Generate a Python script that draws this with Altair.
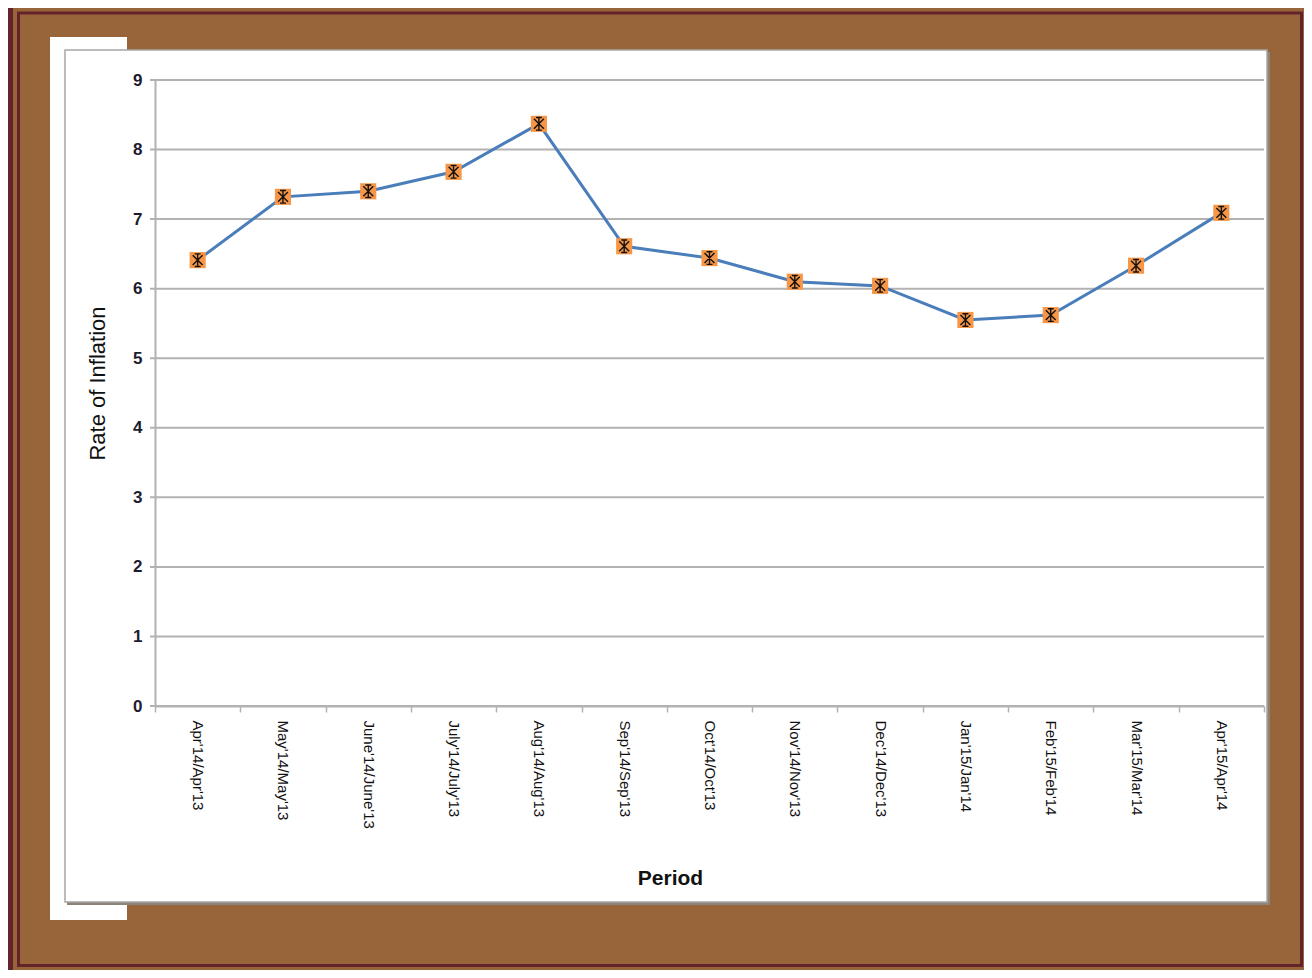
import altair as alt
import pandas as pd

periods = ["Apr'14/Apr'13", "May'14/May'13", "June'14/June'13", "July'14/July'13",
           "Aug'14/Aug'13", "Sep'14/Sep'13", "Oct'14/Oct'13", "Nov'14/Nov'13",
           "Dec'14/Dec'13", "Jan'15/Jan'14", "Feb'15/Feb'14", "Mar'15/Mar'14",
           "Apr'15/Apr'14"]
inflation = [6.41, 7.32, 7.40, 7.68, 8.37, 6.61, 6.44, 6.10, 6.04, 5.55, 5.62, 6.33, 7.09]
y_ticks = [0, 1, 2, 3, 4, 5, 6, 7, 8, 9]

df = pd.DataFrame({"period": periods, "rate": inflation})
grid_df = pd.DataFrame({"v": y_ticks})
one = pd.DataFrame({"a": [0]})

FONT = "Liberation Sans"
W, H = 1109, 626
PX, PY = 155, 80  # plot origin in page pixels


def rx(v):
    return v - PX


def ry(v):
    return v - PY


def box(x1, y1, x2, y2, **kw):
    return alt.Chart(one).mark_rect(**kw).encode(
        x=alt.value(rx(x1)), x2=alt.value(rx(x2)),
        y=alt.value(ry(y1)), y2=alt.value(ry(y2)))


grey = "#b2b2b2"

yscale = alt.Scale(domain=[0, 9], nice=False)
yaxis = alt.Axis(title="Rate of Inflation", values=y_ticks, ticks=False, labelPadding=13,
                 labelFontSize=17, labelFontWeight="bold", labelFont=FONT, labelColor="#1c1c30",
                 domainColor=grey, domainWidth=2, grid=False,
                 titleFont=FONT, titleFontSize=22, titleFontWeight="normal", titleColor="#111",
                 titleX=-58, titleY=303, titleAlign="center", titleBaseline="middle", zindex=1)
Y = alt.Y("rate:Q", scale=yscale, axis=yaxis)

xaxis = alt.Axis(title="Period", labelAngle=90, labelAlign="left", labelBaseline="middle",
                 labelFontSize=15, labelFont=FONT, labelColor="#111", labelPadding=8,
                 labelOverlap=False, tickBand="extent", tickSize=6, tickColor=grey, tickWidth=1.5,
                 domainColor=grey, domainWidth=2, grid=False,
                 titleFont=FONT, titleFontSize=21, titleFontWeight="bold", titleColor="#111",
                 titleX=515, titleY=178, titleAlign="center", titleBaseline="alphabetic", zindex=1)
X = alt.X("period:N", sort=periods,
          scale=alt.Scale(type="band", paddingInner=0, paddingOuter=0), axis=xaxis)

frame_brown = box(13, 8, 1312, 978, color="#98643A")
frame_line = box(18.5, 13, 1301.5, 965.5, fillOpacity=0, stroke="#64232A", strokeWidth=3)
white_back = box(50, 37, 127, 920, color="white")
shadow = box(67, 52, 1270, 905, color="#8c8379")
panel = box(65, 50, 1267, 902, fill="white", stroke="#a6a6a6", strokeWidth=1.5)

gridlines = alt.Chart(grid_df).mark_rule(color=grey, strokeWidth=2).encode(
    y=alt.Y("v:Q", scale=yscale, axis=yaxis), x=alt.value(-5), x2=alt.value(W))

line = alt.Chart(df).mark_line(color="#4A7EBB", strokeWidth=3).encode(x=X, y=Y)
squares = alt.Chart(df).mark_point(shape="square", filled=True, fill="#F79646",
                                   opacity=1, size=260).encode(x=X, y=Y)
star = "M-0.75,-0.75L0.75,0.75M-0.75,0.75L0.75,-0.75M0,-0.95L0,0.95M-0.45,-0.95L0.45,-0.95M-0.45,0.95L0.45,0.95"
stars = alt.Chart(df).mark_point(shape=star, filled=False, stroke="#111", strokeWidth=1.4,
                                 opacity=1, size=175).encode(x=X, y=Y)

chart = alt.layer(frame_brown, frame_line, white_back, shadow, panel, gridlines,
                  line, squares, stars).properties(
    width=W, height=H,
    autosize=alt.AutoSizeParams(type="none"),
    padding={"left": 147, "top": 72, "right": 1296 - 147 - W, "bottom": 962 - 72 - H},
).configure(background="#64232A").configure_view(stroke=None)

chart.save("out.html", embed_options={"renderer": "svg", "actions": False})
